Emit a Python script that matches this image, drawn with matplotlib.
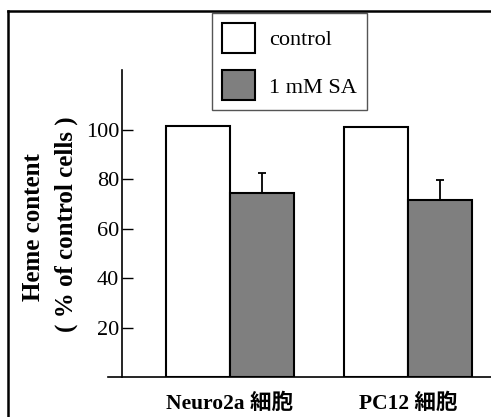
import matplotlib
matplotlib.use("Agg")
import matplotlib.pyplot as plt
from matplotlib.lines import Line2D

# Data
groups = ["Neuro2a 細胞", "PC12 細胞"]
control = [101.5, 101.3]
sa = [74.3, 71.7]
sa_err = [8.2, 8.0]
series_labels = ["control", "1 mM SA"]
yticks = [20, 40, 60, 80, 100]

W, H = 491, 417
fig = plt.figure(figsize=(W / 100, H / 100), dpi=100)

serif = ["Liberation Serif", "DejaVu Serif"]
label_font = ["Liberation Serif", "Noto Sans CJK JP"]

# axes placed in pixel terms
left, bottom, top = 122, 377, 70
ax = fig.add_axes([left / W, (H - bottom) / H, (W - left) / W, (bottom - top) / H])

x = list(range(len(groups)))
width = 0.36
xc = [i - width / 2 for i in x]
xs = [i + width / 2 for i in x]

ax.bar(xc, control, width, color="white", edgecolor="black", linewidth=1.5,
       label=series_labels[0], zorder=2)
ax.bar(xs, sa, width, color="#7f7f7f", edgecolor="black", linewidth=1.5,
       label=series_labels[1], zorder=2)
ax.errorbar(xs, sa, yerr=[[0] * len(sa), sa_err], fmt="none", ecolor="black",
            elinewidth=1.3, capsize=3, capthick=1.3, zorder=1)

ax.set_xlim((left - 230) / 178, (W - 230) / 178)
ax.set_ylim(0, 124.3)

for s in ["top", "right"]:
    ax.spines[s].set_visible(False)
ax.spines["left"].set_linewidth(1.2)
ax.spines["bottom"].set_visible(False)
# x axis line runs a bit past the y axis on the left
ax.add_line(Line2D([-14 / (W - left), 1.0], [0, 0], transform=ax.transAxes,
                   color="black", linewidth=1.2, clip_on=False))

ax.set_yticks(yticks)
ax.set_yticklabels([str(t) for t in yticks], fontfamily=serif, fontsize=16)
ax.tick_params(axis="y", direction="in", length=8, width=1.0, pad=2)

ax.set_xticks(x)
ax.set_xticklabels(groups, fontfamily=label_font, fontweight="bold", fontsize=15.5)
ax.tick_params(axis="x", length=0, pad=12)

fig.text(34 / W, 1 - 227 / H, "Heme content", rotation=90, ha="center", va="center",
         fontfamily=serif, fontweight="bold", fontsize=18)
fig.text(66 / W, 1 - 224 / H, "( % of control cells )", rotation=90, ha="center",
         va="center", fontfamily=serif, fontweight="bold", fontsize=18)

leg = ax.legend(loc="upper left", bbox_to_anchor=(212 / W, 1 - 13 / H),
                bbox_transform=fig.transFigure, borderaxespad=0,
                prop={"family": serif, "size": 16}, handlelength=1.5,
                handleheight=1.7, labelspacing=0.78, handletextpad=0.6,
                borderpad=0.45, fancybox=False, framealpha=1)
leg.get_frame().set_edgecolor("#555555")
leg.get_frame().set_linewidth(1.0)

# outer frame: left and top edges only are inside the picture
fig.add_artist(Line2D([8 / W, 8 / W], [0, 1 - 11 / H], transform=fig.transFigure,
                      color="black", linewidth=1.8))
fig.add_artist(Line2D([8 / W, 1], [1 - 11 / H, 1 - 11 / H], transform=fig.transFigure,
                      color="black", linewidth=1.8))

fig.savefig("out.png", dpi=100)
